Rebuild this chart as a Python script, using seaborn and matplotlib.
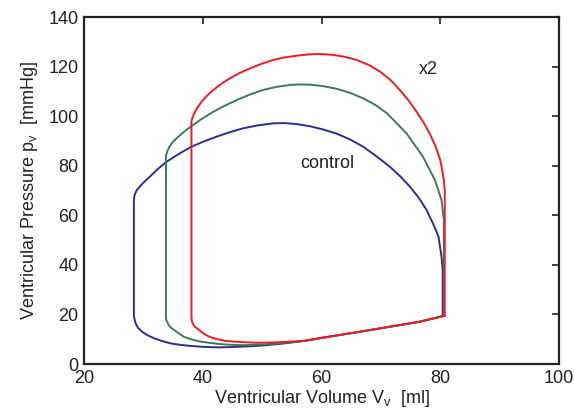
import pandas as pd
import matplotlib
matplotlib.use('Agg')
import matplotlib.pyplot as plt
import seaborn as sns

# control loop (blue): up the right side, over the top, down the left, back along the bottom
vol_control = [80.4, 80.4, 80.4, 80.2, 79.7, 78.9, 77.7, 76.4, 74.9, 73.3, 71.5, 69.3, 67.0,
               64.8, 62.6, 60.3, 58.1, 55.8, 53.8, 51.9, 49.3, 46.8, 44.5, 42.3, 40.2, 38.1,
               36.0, 33.9, 32.4, 31.1, 29.9, 28.9, 28.5, 28.4,
               28.4, 28.5, 28.7, 29.1, 29.8, 30.7, 31.8, 33.1, 34.6, 36.3, 38.0, 40.2, 42.4,
               44.4, 46.4, 48.4, 50.3, 52.0, 53.7, 57.0, 59.7, 68.2, 76.6, 80.4]
p_control = [19.4, 30.0, 37.9, 43.3, 51.4, 56.0, 62.1, 67.0, 71.5, 75.6, 79.6, 83.7, 87.7,
             90.6, 92.9, 94.6, 95.9, 96.8, 97.2, 97.1, 96.3, 95.1, 93.5, 91.7, 89.8, 87.7,
             84.8, 81.6, 78.6, 75.6, 72.9, 70.2, 68.0, 66.0,
             19.8, 18.2, 16.4, 14.6, 13.0, 11.6, 10.4, 9.3, 8.3, 7.7, 7.3, 6.9, 6.7,
             6.8, 7.0, 7.2, 7.5, 7.9, 8.3, 9.3, 10.4, 13.7, 17.1, 19.4]

# intermediate loop (green)
vol_mid = [80.6, 80.6, 80.6, 80.2, 79.1, 77.1, 74.3, 71.0, 69.0, 67.0, 64.8, 62.6, 60.3,
           58.1, 56.4, 54.7, 52.4, 50.2, 47.9, 45.7, 43.7, 41.8, 39.9, 38.1, 36.8, 35.6,
           34.9, 34.4, 34.0, 33.8,
           33.8, 33.9, 34.2, 34.6, 35.2, 36.0, 36.8, 38.1, 39.7, 41.6, 43.6, 45.3, 47.0,
           50.3, 53.7, 57.0, 59.7, 68.2, 76.6, 80.6]
p_mid = [19.4, 50.0, 58.1, 66.2, 74.2, 83.6, 93.1, 101.2, 104.6, 107.2, 109.4, 111.0, 112.1,
         112.7, 112.8, 112.6, 111.8, 110.6, 108.7, 106.5, 104.2, 101.8, 99.0, 96.0, 93.6, 91.1,
         89.4, 87.7, 85.6, 84.0,
         18.5, 17.5, 16.0, 14.7, 13.7, 12.3, 11.0, 9.9, 9.0, 8.4, 7.9, 7.7, 7.6,
         7.9, 8.5, 9.3, 10.4, 13.7, 17.1, 19.4]

# x2 loop (red)
vol_x2 = [80.75, 80.75, 80.75, 80.6, 80.3, 80.0, 79.3, 78.3, 77.3, 76.0, 74.7, 73.2, 71.7,
          69.9, 68.0, 65.9, 64.0, 62.0, 59.7, 57.8, 55.8, 53.8, 51.9, 50.0, 48.0, 46.2,
          44.6, 43.1, 41.8, 40.7, 39.8, 39.2, 38.7, 38.3, 38.1,
          38.1, 38.2, 38.6, 39.4, 40.2, 41.1, 42.3, 43.6, 45.3, 47.0, 48.7, 50.3, 52.0,
          53.7, 57.0, 59.7, 68.2, 76.6, 80.75]
p_x2 = [19.4, 60.0, 70.0, 74.2, 78.5, 82.3, 87.2, 92.6, 97.0, 101.8, 106.2, 110.5, 114.4,
        117.9, 120.6, 122.7, 123.9, 124.7, 125.1, 124.9, 124.4, 123.7, 122.7, 121.2, 119.3, 117.4,
        115.3, 113.0, 110.6, 108.2, 105.8, 103.8, 101.8, 99.6, 97.8,
        18.5, 17.0, 15.2, 13.7, 12.2, 11.0, 10.1, 9.4, 9.0, 8.8, 8.6, 8.6, 8.7,
        8.9, 9.3, 10.4, 13.7, 17.1, 19.4]

x_ticks = [20, 40, 60, 80, 100]
y_ticks = [0, 20, 40, 60, 80, 100, 120, 140]

sns.set_theme(style='white')
plt.rcParams['font.family'] = ['Liberation Sans', 'DejaVu Sans']
plt.rcParams['mathtext.fontset'] = 'custom'
plt.rcParams['mathtext.rm'] = 'Liberation Sans'
plt.rcParams['mathtext.it'] = 'Liberation Sans:italic'

fig = plt.figure(figsize=(5.74, 4.12), dpi=100)
ax = fig.add_axes([0.1463, 0.1165, 0.8277, 0.8422])

loops = [(vol_control, p_control, '#2b2f90'),
         (vol_mid, p_mid, '#3e7a58'),
         (vol_x2, p_x2, '#ec1c24')]
for v, p, c in loops:
    d = pd.DataFrame({'V': v, 'P': p})
    sns.lineplot(data=d, x='V', y='P', sort=False, estimator=None, color=c,
                 linewidth=1.4, ax=ax)

ax.text(60.9, 81, 'control', fontsize=13, ha='center', va='center', color='#222222')
ax.text(77.9, 119, 'x2', fontsize=13, ha='center', va='center', color='#222222')

ax.set_xlim(20, 100)
ax.set_ylim(0, 140)
ax.set_xticks(x_ticks)
ax.set_yticks(y_ticks)
ax.tick_params(direction='in', length=5, width=1.2, top=True, right=True,
               labelsize=13, colors='#222222', pad=4)
for s in ax.spines.values():
    s.set_linewidth(1.6)
    s.set_color('#222222')
ax.set_xlabel(r'Ventricular Volume V$_\mathrm{v}$  [ml]', fontsize=13, color='#222222', labelpad=1)
ax.set_ylabel(r'Ventricular Pressure p$_\mathrm{v}$  [mmHg]', fontsize=13, color='#222222', labelpad=6)

fig.savefig('out.png', dpi=100)
